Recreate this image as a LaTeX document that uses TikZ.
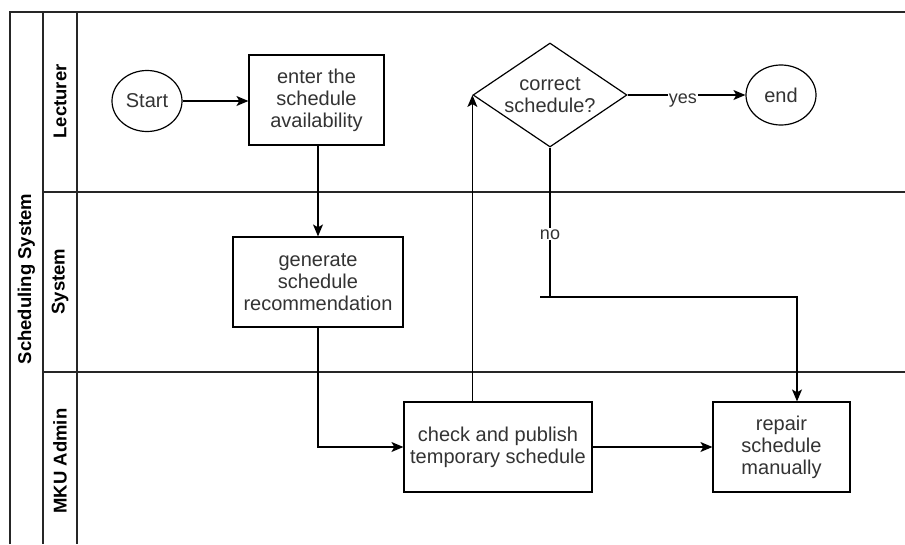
\documentclass[tikz,border=0pt]{standalone}
\usepackage{fontspec}
\setmainfont{Liberation Sans}
\usetikzlibrary{shapes.geometric,arrows.meta}
\definecolor{txt}{HTML}{333333}
\begin{document}
\begin{tikzpicture}[x=1pt,y=-1pt,
  lane/.style={line width=1.3pt,draw=black!85},
  box/.style={draw,line width=1.2pt,align=center,font=\fontsize{20}{22}\selectfont,text=txt,inner sep=0pt},
  conn/.style={line width=1.2pt,-{Stealth[length=12pt,width=10pt,inset=3pt]}},
  plain/.style={line width=1.2pt},
  lbl/.style={font=\fontsize{18}{20}\selectfont,text=txt,fill=white,inner sep=1pt},
  lanetitle/.style={font=\bfseries\fontsize{18.5}{20}\selectfont,rotate=90}
]
\useasboundingbox[fill=white] (0,0) rectangle (905,544);
% swimlane frame
\draw[lane] (10,544) -- (10,12) -- (905,12);
\draw[lane] (43,12) -- (43,544);
\draw[lane] (77,12) -- (77,544);
\draw[lane] (43,192) -- (905,192);
\draw[lane] (43,372) -- (905,372);
\node[lanetitle] (pool) at (26.5,279) {Scheduling System};
\node[lanetitle] (l1) at (60,101.5) {Lecturer};
\node[lanetitle] (l2) at (60,281.5) {System};
\node[lanetitle] (l3) at (60,461) {MKU Admin};
% nodes
\node[box,ellipse,minimum width=70pt,minimum height=61pt] (start) at (147,101) {Start};
\node[box,minimum width=135pt,minimum height=90pt] (enter) at (316.5,100) {enter the\\schedule\\availability};
\node[box,minimum width=170pt,minimum height=90pt] (gen) at (318,282) {generate\\schedule\\recommendation};
\node[box,minimum width=188pt,minimum height=90pt] (check) at (498,447) {check and publish\\temporary schedule};
\node[box,diamond,minimum width=154pt,minimum height=104pt,aspect=1.48] (dec) at (550,95) {};
\node[box,draw=none] (dectext) at (dec.center) {correct\\schedule?};
\node[box,ellipse,minimum width=70pt,minimum height=60pt] (end) at (781,95) {end};
\node[box,minimum width=137pt,minimum height=90pt] (rep) at (781.5,447) {repair\\schedule\\manually};
\coordinate (nocorner) at (797,297);
\coordinate (nostub) at (540,297);
% connectors
\draw[conn] (start) -- (start -| enter.west);
\draw[conn] (enter.south -| gen.north) -- (gen.north);
\draw[conn] (gen.south) |- (check.west);
\draw[conn] (check.north -| dec.west) -- (dec.west);
\draw[conn] (dec.east) -- node[lbl,pos=0.47,yshift=-6pt]{yes} (end.west);
\draw[plain] (dec.south) -- node[lbl,pos=0.58]{no} (dec.south |- nocorner);
\draw[conn] (nostub) -- (nocorner) -- (rep.north -| nocorner);
\draw[conn] (check.east) -- (rep.west);
\end{tikzpicture}
\end{document}
